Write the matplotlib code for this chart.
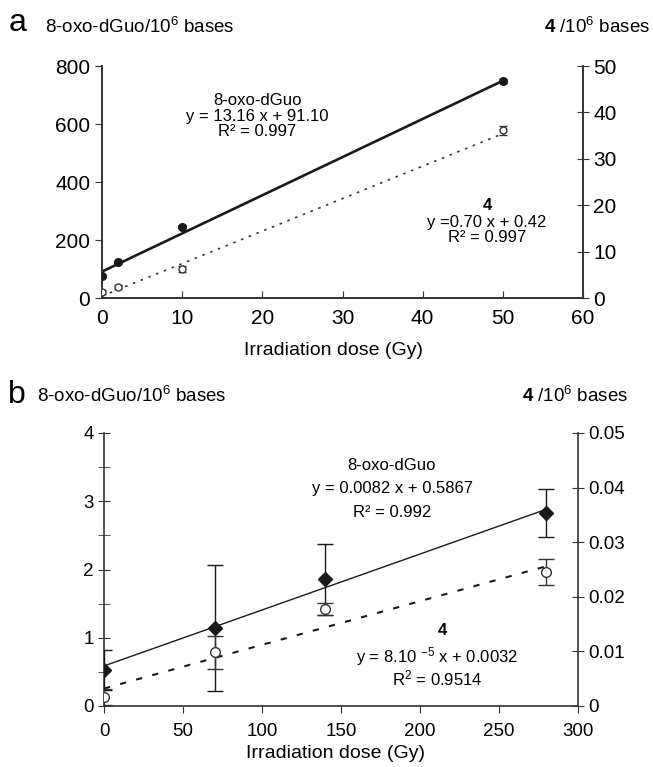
import matplotlib.pyplot as plt
import numpy as np

plt.rcParams['font.family'] = ['Liberation Sans', 'DejaVu Sans']
plt.rcParams['mathtext.fontset'] = 'custom'
plt.rcParams['mathtext.rm'] = 'Liberation Sans'
plt.rcParams['mathtext.bf'] = 'Liberation Sans:bold'
plt.rcParams['mathtext.default'] = 'regular'

# panel a data
dose_a = [0, 2, 10, 50]
oxo_a = [76, 125, 246, 748]
oxo_a_err = [3, 3, 5, 6]
four_a = [1.3, 2.4, 6.3, 36.1]
four_a_err = [0.5, 0.5, 0.6, 1.0]
fit_oxo_a = (13.16, 91.10)
fit_four_a = (0.70, 0.42)

# panel b data
dose_b = [0, 70, 140, 280]
oxo_b = [0.53, 1.14, 1.86, 2.83]
oxo_b_err = [0.29, 0.92, 0.52, 0.35]
four_b = [0.0017, 0.0098, 0.0177, 0.0245]
four_b_err = [0.0015, 0.0031, 0.0011, 0.0024]
fit_oxo_b = (0.0082, 0.5867)
fit_four_b = (8e-5, 0.0032)

W, H = 653, 767
fig = plt.figure(figsize=(W / 100, H / 100), dpi=100)


def fx(x):
    return x / W


def fy(y):
    return 1 - y / H


def label(x, y, s, size, **kw):
    fig.text(fx(x), fy(y), s, fontsize=size, va='baseline', **kw)


def style_axes(ax, ax2, lw):
    for s in ['top', 'right']:
        ax.spines[s].set_visible(False)
    for s in ['top', 'left', 'bottom']:
        ax2.spines[s].set_visible(False)
    for s in ['left', 'bottom']:
        ax.spines[s].set_linewidth(lw)
        ax.spines[s].set_color('#333333')
    ax2.spines['right'].set_linewidth(lw)
    ax2.spines['right'].set_color('#333333')


# ---------------- panel a ----------------
ax = fig.add_axes([fx(102), fy(298), fx(583) - fx(102), fy(66) - fy(298)])
ax2 = ax.twinx()
style_axes(ax, ax2, 1.4)

xa = np.array([0, 50])
ax.plot(xa, fit_oxo_a[0] * xa + fit_oxo_a[1], color='#1a1a1a', lw=1.9)
ax.errorbar(dose_a, oxo_a, yerr=oxo_a_err, fmt='o', color='#1a1a1a', ms=5.5,
            capsize=3, elinewidth=1, zorder=4)
ax2.plot(xa, fit_four_a[0] * xa + fit_four_a[1], color='#333333', lw=1.2,
         ls=(0, (1.5, 3.5)))
ax2.errorbar(dose_a, four_a, yerr=four_a_err, fmt='o', mfc='white', mec='#333333',
             color='#333333', ms=5, capsize=3, elinewidth=1, zorder=4)

ax.set_xlim(0, 60)
ax.set_ylim(0, 800)
ax2.set_ylim(0, 50)
ax.set_xticks(range(0, 61, 10))
ax.set_yticks(range(0, 801, 200))
ax2.set_yticks(range(0, 51, 10))
ax.tick_params(axis='x', direction='in', length=5, labelsize=15, pad=8, color='#333333')
ax.tick_params(axis='y', direction='out', length=5, labelsize=15, color='#333333')
ax2.tick_params(axis='y', direction='inout', length=8, labelsize=15, color='#333333')

label(9, 31, 'a', 23)
label(45, 33, '8-oxo-dGuo/10$^6$ bases', 13.5)
label(650, 33, r'$\mathbf{4}$ /10$^6$ bases', 13.5, ha='right')
label(257, 105, '8-oxo-dGuo', 12, ha='center')
label(257, 121, 'y = 13.16 x + 91.10', 12, ha='center')
label(257, 136, 'R² = 0.997', 12, ha='center')
label(487, 210, '4', 12, ha='center', fontweight='bold')
label(487, 227, 'y =0.70 x + 0.42', 12, ha='center')
label(487, 242, 'R² = 0.997', 12, ha='center')
label(333, 355, 'Irradiation dose (Gy)', 14, ha='center')

# ---------------- panel b ----------------
bx = fig.add_axes([fx(104), fy(706), fx(578) - fx(104), fy(433) - fy(706)])
bx2 = bx.twinx()
style_axes(bx, bx2, 1.2)

xb = np.array([0, 280])
bx.plot(xb, fit_oxo_b[0] * xb + fit_oxo_b[1], color='#1a1a1a', lw=1.0)
bx.errorbar(dose_b, oxo_b, yerr=oxo_b_err, fmt='D', color='#1a1a1a', ms=7,
            capsize=6, elinewidth=1, zorder=4)
bx2.plot(xb, fit_four_b[0] * xb + fit_four_b[1], color='#1a1a1a', lw=1.5,
         ls=(0, (3, 5)))
bx2.errorbar(dose_b, four_b, yerr=four_b_err, fmt='o', mfc='white', mec='#333333',
             color='#333333', ms=7, capsize=6, elinewidth=1, zorder=4)

bx.set_xlim(0, 300)
bx.set_ylim(0, 4)
bx2.set_ylim(0, 0.05)
bx.set_xticks(range(0, 301, 50))
bx.set_yticks(np.arange(0, 4.01, 1))
bx.set_yticks(np.arange(0.5, 4, 1), minor=True)
bx2.set_yticks(np.arange(0, 0.051, 0.01))
bx2.set_yticklabels(['0', '0.01', '0.02', '0.03', '0.04', '0.05'])
bx.tick_params(axis='x', direction='out', length=5, labelsize=13.5, pad=7, color='#333333')
bx.tick_params(axis='y', which='both', direction='inout', length=8, labelsize=13.5, color='#333333')
bx2.tick_params(axis='y', direction='inout', length=8, labelsize=13.5, color='#333333')

label(8, 403, 'b', 23)
label(37, 402, '8-oxo-dGuo/10$^6$ bases', 13.5)
label(628, 402, r'$\mathbf{4}$ /10$^6$ bases', 13.5, ha='right')
label(392, 470, '8-oxo-dGuo', 12, ha='center')
label(392, 493, 'y = 0.0082 x + 0.5867', 12, ha='center')
label(392, 517, 'R² = 0.992', 12, ha='center')
label(442, 635, '4', 12, ha='center', fontweight='bold')
label(437, 662, 'y = 8.10 $^{-5}$ x + 0.0032', 12, ha='center')
label(437, 685, 'R$^2$ = 0.9514', 12, ha='center')
label(335, 758, 'Irradiation dose (Gy)', 14, ha='center')

fig.savefig('out.png', dpi=100)
